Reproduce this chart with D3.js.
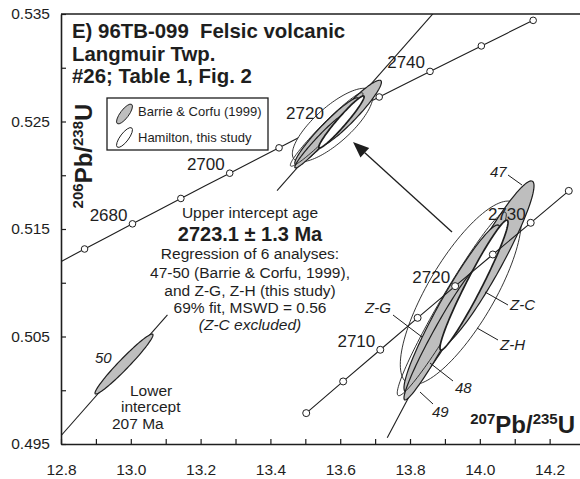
<!DOCTYPE html>
<html>
<head>
<meta charset="utf-8">
<script src="https://cdn.jsdelivr.net/npm/d3@7"></script>
<style>
  body { margin: 0; background: #fff; }
  svg { display: block; font-family: "Liberation Sans", Arial, Helvetica, sans-serif; }
</style>
</head>
<body>
<svg id="chart" width="580" height="479"></svg>
<script>
// concordia reference points (age in Ma, 207Pb/235U, 206Pb/238U)
const concAges = [2665, 2670, 2675, 2680, 2685, 2690, 2695, 2700, 2705, 2710, 2715, 2720, 2725, 2730, 2735, 2740, 2745, 2750, 2755, 2760];
const concR207 = [12.7994, 12.8675, 12.9360, 13.0048, 13.0739, 13.1434, 13.2132, 13.2834, 13.3539, 13.4247, 13.4959, 13.5675, 13.6394, 13.7117, 13.7843, 13.8573, 13.9306, 14.0043, 14.0784, 14.1528];
const concR206 = [0.51196, 0.51314, 0.51431, 0.51548, 0.51666, 0.51784, 0.51902, 0.52019, 0.52137, 0.52255, 0.52374, 0.52492, 0.52610, 0.52728, 0.52847, 0.52966, 0.53084, 0.53203, 0.53322, 0.53441];
const mainLabelAges = [2680, 2700, 2720, 2740];
const insetLabelAges = [2710, 2720, 2730];

// regression line: upper and lower intercepts (207/235, 206/238)
const upperIntercept = [13.612, 0.52568];
const lowerIntercept = [0.2261, 0.03263];

// analyses: 2-sigma error ellipses
const ellNames = ["Z-H", "47", "48", "49", "50", "Z-G", "Z-C"];
const ellSource = ["Hamilton", "Barrie", "Barrie", "Barrie", "Barrie", "Hamilton", "Hamilton"];
const ellX = [13.5783, 13.6283, 13.5615, 13.5405, 12.9805, 13.5611, 13.6035];
const ellSx = [0.1154, 0.0897, 0.0916, 0.0706, 0.0831, 0.1040, 0.0649];
const ellY = [0.52467, 0.52578, 0.52409, 0.52314, 0.50244, 0.52426, 0.52496];
const ellSy = [0.00342, 0.00306, 0.00311, 0.00246, 0.00279, 0.00342, 0.00242];
const ellRho = [0.78, 0.94, 0.95, 0.97, 0.97, 0.97, 0.965];

const xTickVals = d3.range(128, 143).map(d => d / 10);
const yTickVals = d3.range(0, 9).map(i => (495 + 5 * i) / 1000);

const ink = "#1e1e1e", grey = "#bebebe";
const svg = d3.select("#chart");

const x = d3.scaleLinear().domain([12.8, 14.287]).range([61, 580]);
const y = d3.scaleLinear().domain([0.495, 0.535]).range([444, 14]);
// enlarged inset (lower right)
const ix = d3.scaleLinear().domain([13.2, 13.8]).range([262.5, 577]);
const iy = d3.scaleLinear().domain([0.518, 0.530]).range([471.9, 149.8]);

svg.append("defs").append("clipPath").attr("id", "plotClip")
  .append("rect").attr("x", 61).attr("y", 14).attr("width", 519).attr("height", 430);

// axes
const xAxis = svg.append("g").attr("transform", `translate(0,${y(0.495)})`)
  .call(d3.axisBottom(x).tickValues(xTickVals).tickSize(-5).tickSizeOuter(0).tickPadding(20)
    .tickFormat(d => Math.round(d * 10) % 2 === 0 ? d.toFixed(1) : ""));
const yAxis = svg.append("g").attr("transform", `translate(${x(12.8)},0)`)
  .call(d3.axisLeft(y).tickValues(yTickVals).tickSize(-5).tickSizeOuter(0).tickPadding(11)
    .tickFormat((d, i) => i % 2 === 0 ? d.toFixed(3) : ""));
[xAxis, yAxis].forEach(g => {
  g.attr("font-family", null).attr("font-size", null);
  g.select(".domain").attr("stroke", ink).attr("stroke-width", 1.6);
  g.selectAll(".tick line").attr("stroke", ink).attr("stroke-width", 1.2);
  g.selectAll(".tick text").attr("fill", ink).style("font-size", "15.5px");
});
svg.append("line").attr("x1", x(12.8)).attr("x2", 580).attr("y1", y(0.535)).attr("y2", y(0.535))
  .attr("stroke", ink).attr("stroke-width", 1.6);

// helpers
const concPts = concAges.map((a, i) => ({ age: a, r7: concR207[i], r6: concR206[i] }));
const line = d3.line();

function ellipsePath(i, sx, sy) {
  const r = ellRho[i], q = Math.sqrt(1 - r * r);
  const pts = d3.range(0, 120).map(k => {
    const th = k / 120 * 2 * Math.PI;
    return [sx(ellX[i] + ellSx[i] * Math.cos(th)),
            sy(ellY[i] + ellSy[i] * (r * Math.cos(th) + q * Math.sin(th)))];
  });
  return d3.line().curve(d3.curveLinearClosed)(pts);
}

function discordiaAt(v) {
  const m = (upperIntercept[1] - lowerIntercept[1]) / (upperIntercept[0] - lowerIntercept[0]);
  return upperIntercept[1] + m * (v - upperIntercept[0]);
}

function drawEllipses(g, sx, sy, idx) {
  idx.forEach(i => {
    const nm = ellNames[i];
    let fill = ellSource[i] === "Barrie" ? grey : "#fff";
    if (nm === "Z-G") fill = "none";
    g.append("path").attr("d", ellipsePath(i, sx, sy))
      .attr("fill", fill).attr("stroke", ink)
      .attr("stroke-width", nm === "Z-C" ? 1.7 : (ellSource[i] === "Barrie" ? 1.2 : 0.9));
  });
}

// ---- main diagram ----
const main = svg.append("g").attr("clip-path", "url(#plotClip)");

main.append("path")
  .attr("d", line(concPts.map(d => [x(d.r7), y(d.r6)])))
  .attr("fill", "none").attr("stroke", ink).attr("stroke-width", 1.1);

[[12.8, 13.105], [13.419, 13.866]].forEach(([a, b]) => {
  main.append("line").attr("x1", x(a)).attr("y1", y(discordiaAt(a)))
    .attr("x2", x(b)).attr("y2", y(discordiaAt(b)))
    .attr("stroke", ink).attr("stroke-width", 1.1);
});

main.selectAll("circle.mc").data(concPts.filter(d => d.age % 10 === 0 && d.age >= 2670))
  .join("circle").attr("class", "mc")
  .attr("cx", d => x(d.r7)).attr("cy", d => y(d.r6)).attr("r", 3.3)
  .attr("fill", "#fff").attr("stroke", ink).attr("stroke-width", 1);

drawEllipses(main, x, y, [0, 1, 2, 3, 4, 5, 6]);

svg.selectAll("text.mlab").data(concPts.filter(d => mainLabelAges.includes(d.age)))
  .join("text").attr("class", "mlab")
  .attr("x", d => x(d.r7) - 5).attr("y", d => y(d.r6) - 3)
  .attr("text-anchor", "end").attr("fill", ink).style("font-size", "17px")
  .text(d => d.age);

// ---- inset (enlarged) ----
const inset = svg.append("g");
inset.append("line")
  .attr("x1", ix(13.438)).attr("y1", iy(discordiaAt(13.438)))
  .attr("x2", ix(13.66)).attr("y2", iy(discordiaAt(13.66)))
  .attr("stroke", ink).attr("stroke-width", 1.1);

drawEllipses(inset, ix, iy, [0, 1, 2, 3, 5, 6]);

const insetConc = concPts.filter(d => d.age >= 2700 && d.age <= 2735);
inset.append("path")
  .attr("d", line(insetConc.map(d => [ix(d.r7), iy(d.r6)])))
  .attr("fill", "none").attr("stroke", ink).attr("stroke-width", 1.1);
inset.selectAll("circle").data(insetConc).join("circle")
  .attr("cx", d => ix(d.r7)).attr("cy", d => iy(d.r6)).attr("r", 3.5)
  .attr("fill", "#fff").attr("stroke", ink).attr("stroke-width", 1);
inset.selectAll("text.ilab").data(insetConc.filter(d => insetLabelAges.includes(d.age)))
  .join("text").attr("class", "ilab")
  .attr("x", d => ix(d.r7) - 5).attr("y", d => iy(d.r6) - 3)
  .attr("text-anchor", "end").attr("fill", ink).style("font-size", "17px")
  .text(d => d.age);

// analysis labels with leaders
const tags = [
  { t: "47", x: 490, y: 177, l: [508, 175, 522, 185] },
  { t: "48", x: 455, y: 393, l: [453, 381, 430, 363] },
  { t: "49", x: 432, y: 417, l: [433, 404, 420, 392] },
  { t: "Z-G", x: 365, y: 313, l: [393, 315, 422, 337] },
  { t: "Z-C", x: 510, y: 310, l: [508, 305, 485, 292] },
  { t: "Z-H", x: 500, y: 350, l: [498, 340, 477, 328] }
];
tags.forEach(d => {
  inset.append("line").attr("x1", d.l[0]).attr("y1", d.l[1]).attr("x2", d.l[2]).attr("y2", d.l[3])
    .attr("stroke", ink).attr("stroke-width", 1);
  inset.append("text").attr("x", d.x).attr("y", d.y).attr("fill", ink)
    .style("font-size", "15px").style("font-style", "italic").text(d.t);
});
svg.append("text").attr("x", 95).attr("y", 363).attr("fill", ink)
  .style("font-size", "15px").style("font-style", "italic").text("50");

// arrow from inset to cluster
const tip = [353, 142], tail = [452, 232];
const ang = Math.atan2(tip[1] - tail[1], tip[0] - tail[0]);
const hl = 16, hw = 6.5;
const bx = tip[0] - hl * Math.cos(ang), by = tip[1] - hl * Math.sin(ang);
svg.append("line").attr("x1", tail[0]).attr("y1", tail[1]).attr("x2", bx).attr("y2", by)
  .attr("stroke", ink).attr("stroke-width", 1.3);
svg.append("path")
  .attr("d", `M${tip[0]},${tip[1]}L${bx + hw * Math.sin(ang)},${by - hw * Math.cos(ang)}L${bx - hw * Math.sin(ang)},${by + hw * Math.cos(ang)}Z`)
  .attr("fill", ink);

// title
[["E) 96TB-099  Felsic volcanic", 38], ["Langmuir Twp.", 60.5], ["#26; Table 1, Fig. 2", 83]].forEach(([t, yy]) => {
  svg.append("text").attr("x", 72).attr("y", yy).attr("fill", ink)
    .style("font-size", "20.4px").style("font-weight", "bold").style("white-space", "pre").text(t);
});

// legend
svg.append("rect").attr("x", 107).attr("y", 98).attr("width", 161).attr("height", 52)
  .attr("fill", "#fff").attr("stroke", ink).attr("stroke-width", 1.3);
[[grey, 114, "Barrie & Corfu (1999)", 115.5], ["#fff", 137.5, "Hamilton, this study", 141.5]].forEach(([f, cy, t, ty]) => {
  svg.append("ellipse").attr("cx", 124.5).attr("cy", cy).attr("rx", 4.2).attr("ry", 12)
    .attr("transform", `rotate(37,124.5,${cy})`)
    .attr("fill", f).attr("stroke", ink).attr("stroke-width", 0.9);
  svg.append("text").attr("x", 138).attr("y", ty).attr("fill", ink).style("font-size", "13px").text(t);
});

// axis titles
const yt = svg.append("text").attr("transform", "translate(92,156) rotate(-90)")
  .attr("text-anchor", "middle").attr("fill", ink).style("font-weight", "bold");
yt.append("tspan").style("font-size", "15px").attr("dy", -9).text("206");
yt.append("tspan").style("font-size", "24px").attr("dy", 9).text("Pb/");
yt.append("tspan").style("font-size", "15px").attr("dy", -9).text("238");
yt.append("tspan").style("font-size", "24px").attr("dy", 9).text("U");

const xt = svg.append("text").attr("x", 575).attr("y", 433)
  .attr("text-anchor", "end").attr("fill", ink).style("font-weight", "bold");
xt.append("tspan").style("font-size", "15px").attr("dy", -9).text("207");
xt.append("tspan").style("font-size", "24px").attr("dy", 9).text("Pb/");
xt.append("tspan").style("font-size", "15px").attr("dy", -9).text("235");
xt.append("tspan").style("font-size", "24px").attr("dy", 9).text("U");

// regression annotation
const notes = [
  ["Upper intercept age", 218, "15.5px", "normal", "normal"],
  ["2723.1 ± 1.3 Ma", 241, "20px", "bold", "normal"],
  ["Regression of 6 analyses:", 259, "15.5px", "normal", "normal"],
  ["47-50 (Barrie & Corfu, 1999),", 277.5, "15.5px", "normal", "normal"],
  ["and Z-G, Z-H (this study)", 295.5, "15.5px", "normal", "normal"],
  ["69% fit, MSWD = 0.56", 313, "15.5px", "normal", "normal"],
  ["(Z-C excluded)", 330, "15.5px", "normal", "italic"]
];
notes.forEach(([t, yy, fs, fw, st]) => {
  svg.append("text").attr("x", 250).attr("y", yy).attr("text-anchor", "middle").attr("fill", ink)
    .style("font-size", fs).style("font-weight", fw).style("font-style", st).text(t);
});
[["Lower", 130, 396], ["intercept", 121, 412], ["207 Ma", 112, 429]].forEach(([t, xx, yy]) => {
  svg.append("text").attr("x", xx).attr("y", yy).attr("fill", ink).style("font-size", "15.5px").text(t);
});
</script>
</body>
</html>
